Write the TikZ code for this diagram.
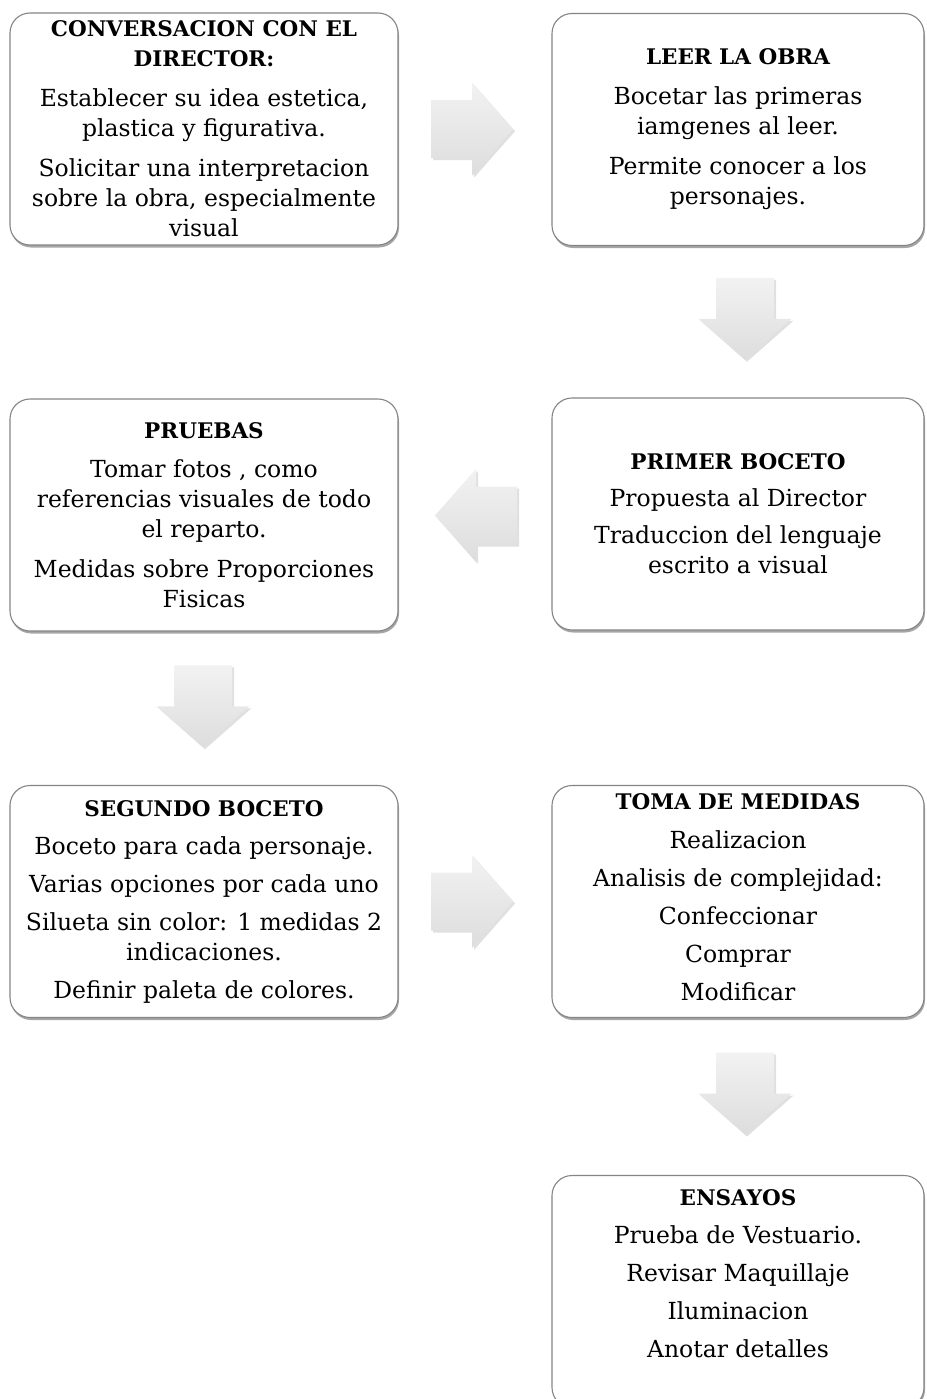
\documentclass[tikz,border=0pt]{standalone}
\usepackage{fontspec}
\setmainfont{DejaVu Serif}
\usetikzlibrary{shadows,calc}
\definecolor{boxline}{HTML}{858585}
\definecolor{arrtop}{HTML}{F2F2F2}
\definecolor{arrbot}{HTML}{DDDDDD}
\tikzset{
  stage/.style={draw=boxline, line width=1.1pt, fill=white, rounded corners=20pt,
    inner sep=0pt, minimum width=#1, minimum height=232pt,
    drop shadow={shadow xshift=1pt, shadow yshift=-2.5pt, fill=black, opacity=0.35}},
  stage/.default=388pt,
  stagetext/.style={align=center, inner sep=0pt, font=\fontsize{23.5}{30}\selectfont},
  arrowbody/.style={top color=arrtop, bottom color=arrbot, draw=none,
    drop shadow={shadow xshift=2pt, shadow yshift=-2pt, fill=black, opacity=0.12}},
  pics/blockarrow/.style={code={
    \path[arrowbody] (-41pt,-29pt) -- (0pt,-29pt) -- (0pt,-46.5pt) -- (41pt,0pt)
      -- (0pt,46.5pt) -- (0pt,29pt) -- (-41pt,29pt) -- cycle;
  }}
}
\newcommand{\ttlfont}{\fontsize{21.5}{30}\selectfont\bfseries}
\newcommand{\pgap}{\\[10pt]}
\begin{document}
\begin{tikzpicture}[x=1pt,y=-1pt]
\clip (0,0) rectangle (926,1399);
\fill[white] (0,0) rectangle (926,1399);

% boxes
\node[stage] (b1) at (204,129) {};
\node[stage=372pt] (b2) at (738,129.5) {};
\node[stage=372pt] (b3) at (738,514) {};
\node[stage] (b4) at (204,515) {};
\node[stage] (b5) at (204,901.5) {};
\node[stage=372pt] (b6) at (738,901.5) {};
\node[stage=372pt] (b7) at (738,1291.5) {};

% texts
\node[stagetext] (t1) at (b1.center) {{\ttlfont CONVERSACION CON EL}\\{\ttlfont DIRECTOR:}\pgap
  Establecer su idea estetica,\\plastica y figurativa.\pgap
  Solicitar una interpretacion\\sobre la obra, especialmente\\visual};
\node[stagetext] (t2) at (b2.center) {{\ttlfont LEER LA OBRA}\pgap
  Bocetar las primeras\\iamgenes al leer.\pgap
  Permite conocer a los\\personajes.};
\node[stagetext] (t3) at (b3.center) {{\ttlfont PRIMER BOCETO}\\[7pt]
  Propuesta al Director\\[7pt]
  Traduccion del lenguaje\\escrito a visual};
\node[stagetext] (t4) at (b4.center) {{\ttlfont PRUEBAS}\\[9pt]
  Tomar fotos , como\\referencias visuales de todo\\el reparto.\pgap
  Medidas sobre Proporciones\\Fisicas};
\node[stagetext] (t5) at (b5.center) {{\ttlfont SEGUNDO BOCETO}\\[8pt]
  Boceto para cada personaje.\\[8pt]
  Varias opciones por cada uno\\[8pt]
  Silueta sin color: 1 medidas 2\\indicaciones.\\[8pt]
  Definir paleta de colores.};
\node[stagetext] (t6) at ([yshift=4pt]b6.center) {{\ttlfont TOMA DE MEDIDAS}\\[9pt]
  Realizacion\\[8pt]
  Analisis de complejidad:\\[8pt]
  Confeccionar\\[8pt]
  Comprar\\[8pt]
  Modificar};
\node[stagetext] (t7) at ([yshift=18pt]b7.center) {{\ttlfont ENSAYOS}\\[8pt]
  Prueba de Vestuario.\\[8pt]
  Revisar Maquillaje\\[8pt]
  Iluminacion\\[8pt]
  Anotar detalles};

% block arrows
\pic at ($(b1.east)!0.5!(b2.west)+(-3,0)$) {blockarrow};
\pic[rotate=-90] at ($(b2.south)!0.5!(b3.north)+(7,-3)$) {blockarrow};
\pic[rotate=180] at ($(b3.west)!0.5!(b4.east)+(1,1)$) {blockarrow};
\pic[rotate=-90] at ($(b4.south)!0.5!(b5.north)+(-1,-2)$) {blockarrow};
\pic at ($(b5.east)!0.5!(b6.west)+(-3,0)$) {blockarrow};
\pic[rotate=-90] at ($(b6.south)!0.5!(b7.north)+(7,-3)$) {blockarrow};
\end{tikzpicture}
\end{document}
